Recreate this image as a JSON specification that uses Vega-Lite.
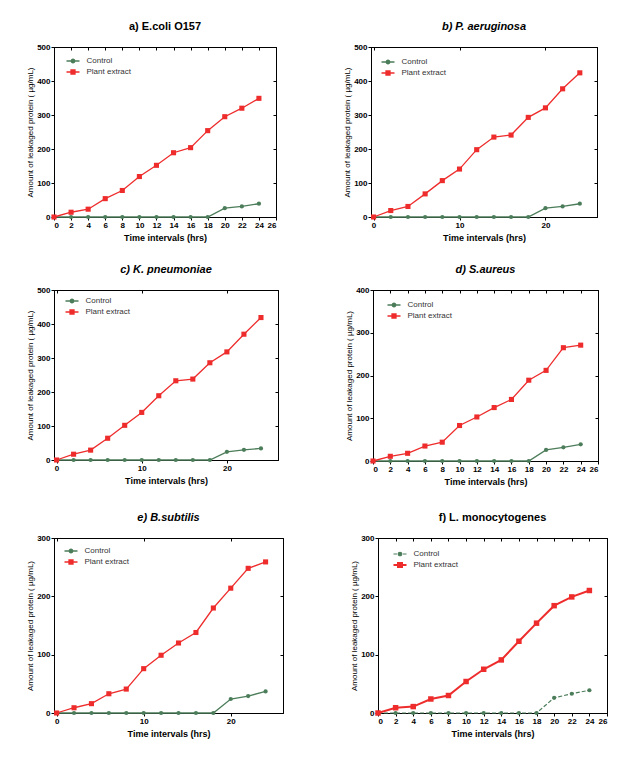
{
  "$schema": "https://vega.github.io/schema/vega-lite/v6.json",
  "background": "white",
  "padding": {"left": 26, "top": 20, "right": 5, "bottom": 5},
  "config": {
    "font": "Liberation Sans",
    "view": {"stroke": "black", "strokeWidth": 1},
    "axis": {"grid": false, "domainColor": "black", "tickColor": "black", "labelColor": "black", "titleColor": "black", "labelFont": "Liberation Sans", "labelFontWeight": "bold", "labelFontSize": 8, "tickSize": 3, "labelPadding": 1, "titleFont": "Liberation Sans", "labelOverlap": false},
    "axisX": {"titleFontSize": 9, "titleFontWeight": "bold", "titlePadding": 4},
    "axisY": {"titleFontSize": 8, "titleFontWeight": "normal", "titlePadding": 2},
    "title": {"font": "Liberation Sans", "fontSize": 11, "fontWeight": "bold", "color": "black", "offset": 11, "anchor": "middle"},
    "legend": {"labelFont": "Liberation Sans", "labelFontSize": 8, "labelColor": "#333333", "title": null, "orient": "none", "padding": 0, "symbolSize": 100, "labelOffset": 7.5, "symbolStrokeWidth": 1.3, "symbolOpacity": 1}
  },
  "datasets": {
    "leak": [
      {"panel":"a","series":"Control","time":0,"protein":0},{"panel":"a","series":"Control","time":2,"protein":0},{"panel":"a","series":"Control","time":4,"protein":0},{"panel":"a","series":"Control","time":6,"protein":0},{"panel":"a","series":"Control","time":8,"protein":0},{"panel":"a","series":"Control","time":10,"protein":0},{"panel":"a","series":"Control","time":12,"protein":0},{"panel":"a","series":"Control","time":14,"protein":0},{"panel":"a","series":"Control","time":16,"protein":0},{"panel":"a","series":"Control","time":18,"protein":0},{"panel":"a","series":"Control","time":20,"protein":26},{"panel":"a","series":"Control","time":22,"protein":31},{"panel":"a","series":"Control","time":24,"protein":39},
      {"panel":"a","series":"Plant extract","time":0,"protein":0},{"panel":"a","series":"Plant extract","time":2,"protein":14},{"panel":"a","series":"Plant extract","time":4,"protein":23},{"panel":"a","series":"Plant extract","time":6,"protein":54},{"panel":"a","series":"Plant extract","time":8,"protein":78},{"panel":"a","series":"Plant extract","time":10,"protein":119},{"panel":"a","series":"Plant extract","time":12,"protein":152},{"panel":"a","series":"Plant extract","time":14,"protein":189},{"panel":"a","series":"Plant extract","time":16,"protein":204},{"panel":"a","series":"Plant extract","time":18,"protein":254},{"panel":"a","series":"Plant extract","time":20,"protein":295},{"panel":"a","series":"Plant extract","time":22,"protein":320},{"panel":"a","series":"Plant extract","time":24,"protein":349},
      {"panel":"b","series":"Control","time":0,"protein":0},{"panel":"b","series":"Control","time":2,"protein":0},{"panel":"b","series":"Control","time":4,"protein":0},{"panel":"b","series":"Control","time":6,"protein":0},{"panel":"b","series":"Control","time":8,"protein":0},{"panel":"b","series":"Control","time":10,"protein":0},{"panel":"b","series":"Control","time":12,"protein":0},{"panel":"b","series":"Control","time":14,"protein":0},{"panel":"b","series":"Control","time":16,"protein":0},{"panel":"b","series":"Control","time":18,"protein":0},{"panel":"b","series":"Control","time":20,"protein":26},{"panel":"b","series":"Control","time":22,"protein":31},{"panel":"b","series":"Control","time":24,"protein":39},
      {"panel":"b","series":"Plant extract","time":0,"protein":0},{"panel":"b","series":"Plant extract","time":2,"protein":19},{"panel":"b","series":"Plant extract","time":4,"protein":31},{"panel":"b","series":"Plant extract","time":6,"protein":68},{"panel":"b","series":"Plant extract","time":8,"protein":107},{"panel":"b","series":"Plant extract","time":10,"protein":141},{"panel":"b","series":"Plant extract","time":12,"protein":198},{"panel":"b","series":"Plant extract","time":14,"protein":235},{"panel":"b","series":"Plant extract","time":16,"protein":241},{"panel":"b","series":"Plant extract","time":18,"protein":293},{"panel":"b","series":"Plant extract","time":20,"protein":321},{"panel":"b","series":"Plant extract","time":22,"protein":377},{"panel":"b","series":"Plant extract","time":24,"protein":424},
      {"panel":"c","series":"Control","time":0,"protein":0},{"panel":"c","series":"Control","time":2,"protein":0},{"panel":"c","series":"Control","time":4,"protein":0},{"panel":"c","series":"Control","time":6,"protein":0},{"panel":"c","series":"Control","time":8,"protein":0},{"panel":"c","series":"Control","time":10,"protein":0},{"panel":"c","series":"Control","time":12,"protein":0},{"panel":"c","series":"Control","time":14,"protein":0},{"panel":"c","series":"Control","time":16,"protein":0},{"panel":"c","series":"Control","time":18,"protein":0},{"panel":"c","series":"Control","time":20,"protein":24},{"panel":"c","series":"Control","time":22,"protein":30},{"panel":"c","series":"Control","time":24,"protein":34},
      {"panel":"c","series":"Plant extract","time":0,"protein":0},{"panel":"c","series":"Plant extract","time":2,"protein":17},{"panel":"c","series":"Plant extract","time":4,"protein":29},{"panel":"c","series":"Plant extract","time":6,"protein":64},{"panel":"c","series":"Plant extract","time":8,"protein":102},{"panel":"c","series":"Plant extract","time":10,"protein":140},{"panel":"c","series":"Plant extract","time":12,"protein":189},{"panel":"c","series":"Plant extract","time":14,"protein":233},{"panel":"c","series":"Plant extract","time":16,"protein":238},{"panel":"c","series":"Plant extract","time":18,"protein":286},{"panel":"c","series":"Plant extract","time":20,"protein":318},{"panel":"c","series":"Plant extract","time":22,"protein":370},{"panel":"c","series":"Plant extract","time":24,"protein":419},
      {"panel":"d","series":"Control","time":0,"protein":0},{"panel":"d","series":"Control","time":2,"protein":0},{"panel":"d","series":"Control","time":4,"protein":0},{"panel":"d","series":"Control","time":6,"protein":0},{"panel":"d","series":"Control","time":8,"protein":0},{"panel":"d","series":"Control","time":10,"protein":0},{"panel":"d","series":"Control","time":12,"protein":0},{"panel":"d","series":"Control","time":14,"protein":0},{"panel":"d","series":"Control","time":16,"protein":0},{"panel":"d","series":"Control","time":18,"protein":0},{"panel":"d","series":"Control","time":20,"protein":26},{"panel":"d","series":"Control","time":22,"protein":32},{"panel":"d","series":"Control","time":24,"protein":39},
      {"panel":"d","series":"Plant extract","time":0,"protein":0},{"panel":"d","series":"Plant extract","time":2,"protein":11},{"panel":"d","series":"Plant extract","time":4,"protein":18},{"panel":"d","series":"Plant extract","time":6,"protein":35},{"panel":"d","series":"Plant extract","time":8,"protein":44},{"panel":"d","series":"Plant extract","time":10,"protein":83},{"panel":"d","series":"Plant extract","time":12,"protein":103},{"panel":"d","series":"Plant extract","time":14,"protein":125},{"panel":"d","series":"Plant extract","time":16,"protein":144},{"panel":"d","series":"Plant extract","time":18,"protein":189},{"panel":"d","series":"Plant extract","time":20,"protein":212},{"panel":"d","series":"Plant extract","time":22,"protein":265},{"panel":"d","series":"Plant extract","time":24,"protein":271},
      {"panel":"e","series":"Control","time":0,"protein":0},{"panel":"e","series":"Control","time":2,"protein":0},{"panel":"e","series":"Control","time":4,"protein":0},{"panel":"e","series":"Control","time":6,"protein":0},{"panel":"e","series":"Control","time":8,"protein":0},{"panel":"e","series":"Control","time":10,"protein":0},{"panel":"e","series":"Control","time":12,"protein":0},{"panel":"e","series":"Control","time":14,"protein":0},{"panel":"e","series":"Control","time":16,"protein":0},{"panel":"e","series":"Control","time":18,"protein":0},{"panel":"e","series":"Control","time":20,"protein":24},{"panel":"e","series":"Control","time":22,"protein":29},{"panel":"e","series":"Control","time":24,"protein":37},
      {"panel":"e","series":"Plant extract","time":0,"protein":0},{"panel":"e","series":"Plant extract","time":2,"protein":9},{"panel":"e","series":"Plant extract","time":4,"protein":16},{"panel":"e","series":"Plant extract","time":6,"protein":33},{"panel":"e","series":"Plant extract","time":8,"protein":41},{"panel":"e","series":"Plant extract","time":10,"protein":76},{"panel":"e","series":"Plant extract","time":12,"protein":99},{"panel":"e","series":"Plant extract","time":14,"protein":120},{"panel":"e","series":"Plant extract","time":16,"protein":138},{"panel":"e","series":"Plant extract","time":18,"protein":180},{"panel":"e","series":"Plant extract","time":20,"protein":214},{"panel":"e","series":"Plant extract","time":22,"protein":248},{"panel":"e","series":"Plant extract","time":24,"protein":259},
      {"panel":"f","series":"Control","time":0,"protein":0},{"panel":"f","series":"Control","time":2,"protein":0},{"panel":"f","series":"Control","time":4,"protein":0},{"panel":"f","series":"Control","time":6,"protein":0},{"panel":"f","series":"Control","time":8,"protein":0},{"panel":"f","series":"Control","time":10,"protein":0},{"panel":"f","series":"Control","time":12,"protein":0},{"panel":"f","series":"Control","time":14,"protein":0},{"panel":"f","series":"Control","time":16,"protein":0},{"panel":"f","series":"Control","time":18,"protein":0},{"panel":"f","series":"Control","time":20,"protein":26},{"panel":"f","series":"Control","time":22,"protein":33},{"panel":"f","series":"Control","time":24,"protein":39},
      {"panel":"f","series":"Plant extract","time":0,"protein":0},{"panel":"f","series":"Plant extract","time":2,"protein":9},{"panel":"f","series":"Plant extract","time":4,"protein":11},{"panel":"f","series":"Plant extract","time":6,"protein":24},{"panel":"f","series":"Plant extract","time":8,"protein":30},{"panel":"f","series":"Plant extract","time":10,"protein":54},{"panel":"f","series":"Plant extract","time":12,"protein":75},{"panel":"f","series":"Plant extract","time":14,"protein":91},{"panel":"f","series":"Plant extract","time":16,"protein":123},{"panel":"f","series":"Plant extract","time":18,"protein":154},{"panel":"f","series":"Plant extract","time":20,"protein":184},{"panel":"f","series":"Plant extract","time":22,"protein":199},{"panel":"f","series":"Plant extract","time":24,"protein":210}
    ]
  },
  "data": {"name": "leak"},
  "resolve": {"scale": {"color": "independent"}, "legend": {"color": "independent"}},
  "spacing": 24,
  "vconcat": [
   {
    "resolve": {"scale": {"color": "independent"}, "legend": {"color": "independent"}},
    "spacing": 20,
    "vconcat": [
    {
      "resolve": {"scale": {"color": "independent"}, "legend": {"color": "independent"}},
      "spacing": 66,
      "hconcat": [
        {
          "title": {"text": "a) E.coli O157"},
          "width": 222, "height": 170,
          "transform": [{"filter": "datum.panel === 'a'"}],
          "layer": [
            {"transform": [{"filter": "datum.series === 'Control'"}],
             "layer": [
               {"mark": {"type": "line", "strokeWidth": 1.3},
                "encoding": {
                  "x": {"field": "time", "type": "quantitative", "axis": null},
                  "y": {"field": "protein", "type": "quantitative", "axis": null},
                  "color": {"field": "series", "type": "nominal", "scale": {"domain": ["Control"], "range": ["#4c7d5a"]},
                    "legend": {"legendX": 13, "legendY": 8, "symbolType": "M-1.3,0H1.3M-0.35,0A0.35,0.35 0 1,1 0.35,0A0.35,0.35 0 1,1 -0.35,0Z", "symbolFillColor": "#4c7d5a", "symbolStrokeColor": "#4c7d5a"}}
                }},
               {"mark": {"type": "point", "shape": "circle", "filled": true, "size": 18, "opacity": 1},
                "encoding": {"x": {"field": "time", "type": "quantitative", "axis": null}, "y": {"field": "protein", "type": "quantitative", "axis": null}, "color": {"field": "series", "type": "nominal"}}}
             ]},
            {"transform": [{"filter": "datum.series === 'Plant extract'"}],
             "layer": [
               {"mark": {"type": "line", "strokeWidth": 1.3},
                "encoding": {
                  "x": {"field": "time", "type": "quantitative", "axis": null},
                  "y": {"field": "protein", "type": "quantitative", "axis": null},
                  "color": {"field": "series", "type": "nominal", "scale": {"domain": ["Plant extract"], "range": ["#ee2c2c"]},
                    "legend": {"legendX": 13, "legendY": 19, "symbolType": "M-1.3,0H1.3M-0.4,-0.4H0.4V0.4H-0.4Z", "symbolFillColor": "#ee2c2c", "symbolStrokeColor": "#ee2c2c"}}
                }},
               {"mark": {"type": "point", "shape": "square", "filled": true, "size": 26, "opacity": 1},
                "encoding": {"x": {"field": "time", "type": "quantitative", "axis": null}, "y": {"field": "protein", "type": "quantitative", "axis": null}, "color": {"field": "series", "type": "nominal"}}}
             ]},
            {"mark": {"type": "point", "opacity": 0},
             "encoding": {
               "x": {"field": "time", "type": "quantitative", "scale": {"domain": [0, 26], "nice": false, "zero": false}, "axis": {"values": [0,2,4,6,8,10,12,14,16,18,20,22,24,26], "title": "Time intervals (hrs)"}},
               "y": {"field": "protein", "type": "quantitative", "scale": {"domain": [0, 500], "nice": false}, "axis": {"values": [0,100,200,300,400,500], "title": "Amount of leakaged protein (  µg/mL)"}}
             }},
            {"mark": {"type": "point", "opacity": 0},
             "encoding": {
               "x": {"field": "time", "type": "quantitative", "axis": {"orient": "top", "values": [0,2,4,6,8,10,12,14,16,18,20,22,24,26], "labels": false, "title": null, "tickSize": -3}},
               "y": {"field": "protein", "type": "quantitative", "axis": {"orient": "right", "values": [0,100,200,300,400,500], "labels": false, "title": null, "tickSize": -3}}
             }}
          ],
          "resolve": {"scale": {"color": "independent"}, "legend": {"color": "independent"}, "axis": {"x": "independent", "y": "independent"}}
        },
        {
          "title": {"text": "b) P. aeruginosa", "fontStyle": "italic"},
          "width": 226, "height": 170,
          "transform": [{"filter": "datum.panel === 'b'"}],
          "layer": [
            {"transform": [{"filter": "datum.series === 'Control'"}],
             "layer": [
               {"mark": {"type": "line", "strokeWidth": 1.3},
                "encoding": {
                  "x": {"field": "time", "type": "quantitative", "axis": null},
                  "y": {"field": "protein", "type": "quantitative", "axis": null},
                  "color": {"field": "series", "type": "nominal", "scale": {"domain": ["Control"], "range": ["#4c7d5a"]},
                    "legend": {"legendX": 11, "legendY": 9, "symbolType": "M-1.3,0H1.3M-0.35,0A0.35,0.35 0 1,1 0.35,0A0.35,0.35 0 1,1 -0.35,0Z", "symbolFillColor": "#4c7d5a", "symbolStrokeColor": "#4c7d5a"}}
                }},
               {"mark": {"type": "point", "shape": "circle", "filled": true, "size": 18, "opacity": 1},
                "encoding": {"x": {"field": "time", "type": "quantitative", "axis": null}, "y": {"field": "protein", "type": "quantitative", "axis": null}, "color": {"field": "series", "type": "nominal"}}}
             ]},
            {"transform": [{"filter": "datum.series === 'Plant extract'"}],
             "layer": [
               {"mark": {"type": "line", "strokeWidth": 1.3},
                "encoding": {
                  "x": {"field": "time", "type": "quantitative", "axis": null},
                  "y": {"field": "protein", "type": "quantitative", "axis": null},
                  "color": {"field": "series", "type": "nominal", "scale": {"domain": ["Plant extract"], "range": ["#ee2c2c"]},
                    "legend": {"legendX": 11, "legendY": 20, "symbolType": "M-1.3,0H1.3M-0.4,-0.4H0.4V0.4H-0.4Z", "symbolFillColor": "#ee2c2c", "symbolStrokeColor": "#ee2c2c"}}
                }},
               {"mark": {"type": "point", "shape": "square", "filled": true, "size": 26, "opacity": 1},
                "encoding": {"x": {"field": "time", "type": "quantitative", "axis": null}, "y": {"field": "protein", "type": "quantitative", "axis": null}, "color": {"field": "series", "type": "nominal"}}}
             ]},
            {"mark": {"type": "point", "opacity": 0},
             "encoding": {
               "x": {"field": "time", "type": "quantitative", "scale": {"domain": [-0.3, 26], "nice": false, "zero": false}, "axis": {"values": [0,10,20], "title": "Time intervals (hrs)"}},
               "y": {"field": "protein", "type": "quantitative", "scale": {"domain": [0, 500], "nice": false}, "axis": {"values": [0,100,200,300,400,500], "title": "Amount of leakaged protein (  µg/mL)"}}
             }},
            {"mark": {"type": "point", "opacity": 0},
             "encoding": {
               "x": {"field": "time", "type": "quantitative", "axis": {"orient": "top", "values": [0,10,20], "labels": false, "title": null, "tickSize": -3}},
               "y": {"field": "protein", "type": "quantitative", "axis": {"orient": "right", "values": [0,100,200,300,400,500], "labels": false, "title": null, "tickSize": -3}}
             }}
          ],
          "resolve": {"scale": {"color": "independent"}, "legend": {"color": "independent"}, "axis": {"x": "independent", "y": "independent"}}
        }
      ]
    },
    {
      "resolve": {"scale": {"color": "independent"}, "legend": {"color": "independent"}},
      "spacing": 66,
      "hconcat": [
        {
          "title": {"text": "c) K. pneumoniae", "fontStyle": "italic"},
          "width": 224, "height": 170,
          "transform": [{"filter": "datum.panel === 'c'"}],
          "layer": [
            {"transform": [{"filter": "datum.series === 'Control'"}],
             "layer": [
               {"mark": {"type": "line", "strokeWidth": 1.3},
                "encoding": {
                  "x": {"field": "time", "type": "quantitative", "axis": null},
                  "y": {"field": "protein", "type": "quantitative", "axis": null},
                  "color": {"field": "series", "type": "nominal", "scale": {"domain": ["Control"], "range": ["#4c7d5a"]},
                    "legend": {"legendX": 12, "legendY": 5, "symbolType": "M-1.3,0H1.3M-0.35,0A0.35,0.35 0 1,1 0.35,0A0.35,0.35 0 1,1 -0.35,0Z", "symbolFillColor": "#4c7d5a", "symbolStrokeColor": "#4c7d5a"}}
                }},
               {"mark": {"type": "point", "shape": "circle", "filled": true, "size": 18, "opacity": 1},
                "encoding": {"x": {"field": "time", "type": "quantitative", "axis": null}, "y": {"field": "protein", "type": "quantitative", "axis": null}, "color": {"field": "series", "type": "nominal"}}}
             ]},
            {"transform": [{"filter": "datum.series === 'Plant extract'"}],
             "layer": [
               {"mark": {"type": "line", "strokeWidth": 1.3},
                "encoding": {
                  "x": {"field": "time", "type": "quantitative", "axis": null},
                  "y": {"field": "protein", "type": "quantitative", "axis": null},
                  "color": {"field": "series", "type": "nominal", "scale": {"domain": ["Plant extract"], "range": ["#ee2c2c"]},
                    "legend": {"legendX": 12, "legendY": 16, "symbolType": "M-1.3,0H1.3M-0.4,-0.4H0.4V0.4H-0.4Z", "symbolFillColor": "#ee2c2c", "symbolStrokeColor": "#ee2c2c"}}
                }},
               {"mark": {"type": "point", "shape": "square", "filled": true, "size": 26, "opacity": 1},
                "encoding": {"x": {"field": "time", "type": "quantitative", "axis": null}, "y": {"field": "protein", "type": "quantitative", "axis": null}, "color": {"field": "series", "type": "nominal"}}}
             ]},
            {"mark": {"type": "point", "opacity": 0},
             "encoding": {
               "x": {"field": "time", "type": "quantitative", "scale": {"domain": [-0.3, 26], "nice": false, "zero": false}, "axis": {"values": [0,10,20], "title": "Time intervals (hrs)"}},
               "y": {"field": "protein", "type": "quantitative", "scale": {"domain": [0, 500], "nice": false}, "axis": {"values": [0,100,200,300,400,500], "title": "Amount of leakaged protein (  µg/mL)"}}
             }},
            {"mark": {"type": "point", "opacity": 0},
             "encoding": {
               "x": {"field": "time", "type": "quantitative", "axis": {"orient": "top", "values": [0,10,20], "labels": false, "title": null, "tickSize": -3}},
               "y": {"field": "protein", "type": "quantitative", "axis": {"orient": "right", "values": [0,100,200,300,400,500], "labels": false, "title": null, "tickSize": -3}}
             }}
          ],
          "resolve": {"scale": {"color": "independent"}, "legend": {"color": "independent"}, "axis": {"x": "independent", "y": "independent"}}
        },
        {
          "title": {"text": "d) S.aureus", "fontStyle": "italic"},
          "width": 225, "height": 171,
          "transform": [{"filter": "datum.panel === 'd'"}],
          "layer": [
            {"transform": [{"filter": "datum.series === 'Control'"}],
             "layer": [
               {"mark": {"type": "line", "strokeWidth": 1.3},
                "encoding": {
                  "x": {"field": "time", "type": "quantitative", "axis": null},
                  "y": {"field": "protein", "type": "quantitative", "axis": null},
                  "color": {"field": "series", "type": "nominal", "scale": {"domain": ["Control"], "range": ["#4c7d5a"]},
                    "legend": {"legendX": 15, "legendY": 9, "symbolType": "M-1.3,0H1.3M-0.35,0A0.35,0.35 0 1,1 0.35,0A0.35,0.35 0 1,1 -0.35,0Z", "symbolFillColor": "#4c7d5a", "symbolStrokeColor": "#4c7d5a"}}
                }},
               {"mark": {"type": "point", "shape": "circle", "filled": true, "size": 18, "opacity": 1},
                "encoding": {"x": {"field": "time", "type": "quantitative", "axis": null}, "y": {"field": "protein", "type": "quantitative", "axis": null}, "color": {"field": "series", "type": "nominal"}}}
             ]},
            {"transform": [{"filter": "datum.series === 'Plant extract'"}],
             "layer": [
               {"mark": {"type": "line", "strokeWidth": 1.3},
                "encoding": {
                  "x": {"field": "time", "type": "quantitative", "axis": null},
                  "y": {"field": "protein", "type": "quantitative", "axis": null},
                  "color": {"field": "series", "type": "nominal", "scale": {"domain": ["Plant extract"], "range": ["#ee2c2c"]},
                    "legend": {"legendX": 15, "legendY": 20, "symbolType": "M-1.3,0H1.3M-0.4,-0.4H0.4V0.4H-0.4Z", "symbolFillColor": "#ee2c2c", "symbolStrokeColor": "#ee2c2c"}}
                }},
               {"mark": {"type": "point", "shape": "square", "filled": true, "size": 26, "opacity": 1},
                "encoding": {"x": {"field": "time", "type": "quantitative", "axis": null}, "y": {"field": "protein", "type": "quantitative", "axis": null}, "color": {"field": "series", "type": "nominal"}}}
             ]},
            {"mark": {"type": "point", "opacity": 0},
             "encoding": {
               "x": {"field": "time", "type": "quantitative", "scale": {"domain": [0, 26], "nice": false, "zero": false}, "axis": {"values": [0,2,4,6,8,10,12,14,16,18,20,22,24,26], "title": "Time intervals (hrs)"}},
               "y": {"field": "protein", "type": "quantitative", "scale": {"domain": [0, 400], "nice": false}, "axis": {"values": [0,100,200,300,400], "title": "Amount of leakaged protein (  µg/mL)"}}
             }},
            {"mark": {"type": "point", "opacity": 0},
             "encoding": {
               "x": {"field": "time", "type": "quantitative", "axis": {"orient": "top", "values": [0,2,4,6,8,10,12,14,16,18,20,22,24,26], "labels": false, "title": null, "tickSize": -3}},
               "y": {"field": "protein", "type": "quantitative", "axis": {"orient": "right", "values": [0,100,200,300,400], "labels": false, "title": null, "tickSize": -3}}
             }}
          ],
          "resolve": {"scale": {"color": "independent"}, "legend": {"color": "independent"}, "axis": {"x": "independent", "y": "independent"}}
        }
      ]
    }
    ]
   },
    {
      "resolve": {"scale": {"color": "independent"}, "legend": {"color": "independent"}},
      "spacing": 66,
      "hconcat": [
        {
          "title": {"text": "e) B.subtilis", "fontStyle": "italic"},
          "width": 229, "height": 175,
          "transform": [{"filter": "datum.panel === 'e'"}],
          "layer": [
            {"transform": [{"filter": "datum.series === 'Control'"}],
             "layer": [
               {"mark": {"type": "line", "strokeWidth": 1.3},
                "encoding": {
                  "x": {"field": "time", "type": "quantitative", "axis": null},
                  "y": {"field": "protein", "type": "quantitative", "axis": null},
                  "color": {"field": "series", "type": "nominal", "scale": {"domain": ["Control"], "range": ["#4c7d5a"]},
                    "legend": {"legendX": 11, "legendY": 7, "symbolType": "M-1.3,0H1.3M-0.35,0A0.35,0.35 0 1,1 0.35,0A0.35,0.35 0 1,1 -0.35,0Z", "symbolFillColor": "#4c7d5a", "symbolStrokeColor": "#4c7d5a"}}
                }},
               {"mark": {"type": "point", "shape": "circle", "filled": true, "size": 18, "opacity": 1},
                "encoding": {"x": {"field": "time", "type": "quantitative", "axis": null}, "y": {"field": "protein", "type": "quantitative", "axis": null}, "color": {"field": "series", "type": "nominal"}}}
             ]},
            {"transform": [{"filter": "datum.series === 'Plant extract'"}],
             "layer": [
               {"mark": {"type": "line", "strokeWidth": 1.3},
                "encoding": {
                  "x": {"field": "time", "type": "quantitative", "axis": null},
                  "y": {"field": "protein", "type": "quantitative", "axis": null},
                  "color": {"field": "series", "type": "nominal", "scale": {"domain": ["Plant extract"], "range": ["#ee2c2c"]},
                    "legend": {"legendX": 11, "legendY": 18, "symbolType": "M-1.3,0H1.3M-0.4,-0.4H0.4V0.4H-0.4Z", "symbolFillColor": "#ee2c2c", "symbolStrokeColor": "#ee2c2c"}}
                }},
               {"mark": {"type": "point", "shape": "square", "filled": true, "size": 26, "opacity": 1},
                "encoding": {"x": {"field": "time", "type": "quantitative", "axis": null}, "y": {"field": "protein", "type": "quantitative", "axis": null}, "color": {"field": "series", "type": "nominal"}}}
             ]},
            {"mark": {"type": "point", "opacity": 0},
             "encoding": {
               "x": {"field": "time", "type": "quantitative", "scale": {"domain": [-0.3, 26], "nice": false, "zero": false}, "axis": {"values": [0,10,20], "title": "Time intervals (hrs)"}},
               "y": {"field": "protein", "type": "quantitative", "scale": {"domain": [0, 300], "nice": false}, "axis": {"values": [0,100,200,300], "title": "Amount of leakaged protein (  µg/mL)"}}
             }},
            {"mark": {"type": "point", "opacity": 0},
             "encoding": {
               "x": {"field": "time", "type": "quantitative", "axis": {"orient": "top", "values": [0,10,20], "labels": false, "title": null, "tickSize": -3}},
               "y": {"field": "protein", "type": "quantitative", "axis": {"orient": "right", "values": [0,100,200,300], "labels": false, "title": null, "tickSize": -3}}
             }}
          ],
          "resolve": {"scale": {"color": "independent"}, "legend": {"color": "independent"}, "axis": {"x": "independent", "y": "independent"}}
        },
        {
          "title": {"text": "f) L. monocytogenes"},
          "width": 229, "height": 175,
          "transform": [{"filter": "datum.panel === 'f'"}],
          "layer": [
            {"transform": [{"filter": "datum.series === 'Control'"}],
             "layer": [
               {"mark": {"type": "line", "strokeWidth": 1.2, "strokeDash": [4, 2]},
                "encoding": {
                  "x": {"field": "time", "type": "quantitative", "axis": null},
                  "y": {"field": "protein", "type": "quantitative", "axis": null},
                  "color": {"field": "series", "type": "nominal", "scale": {"domain": ["Control"], "range": ["#4c7d5a"]},
                    "legend": {"legendX": 16, "legendY": 10, "symbolType": "M-1.3,0H-0.6M0.6,0H1.3M-0.35,0A0.35,0.35 0 1,1 0.35,0A0.35,0.35 0 1,1 -0.35,0Z", "symbolFillColor": "#4c7d5a", "symbolStrokeColor": "#4c7d5a", "symbolStrokeWidth": 1.2}}
                }},
               {"mark": {"type": "point", "shape": "circle", "filled": true, "size": 18, "opacity": 1},
                "encoding": {"x": {"field": "time", "type": "quantitative", "axis": null}, "y": {"field": "protein", "type": "quantitative", "axis": null}, "color": {"field": "series", "type": "nominal"}}}
             ]},
            {"transform": [{"filter": "datum.series === 'Plant extract'"}],
             "layer": [
               {"mark": {"type": "line", "strokeWidth": 2},
                "encoding": {
                  "x": {"field": "time", "type": "quantitative", "axis": null},
                  "y": {"field": "protein", "type": "quantitative", "axis": null},
                  "color": {"field": "series", "type": "nominal", "scale": {"domain": ["Plant extract"], "range": ["#ee2c2c"]},
                    "legend": {"legendX": 16, "legendY": 21, "symbolType": "M-1.3,0H1.3M-0.4,-0.4H0.4V0.4H-0.4Z", "symbolFillColor": "#ee2c2c", "symbolStrokeColor": "#ee2c2c", "symbolStrokeWidth": 2}}
                }},
               {"mark": {"type": "point", "shape": "square", "filled": true, "size": 30, "opacity": 1},
                "encoding": {"x": {"field": "time", "type": "quantitative", "axis": null}, "y": {"field": "protein", "type": "quantitative", "axis": null}, "color": {"field": "series", "type": "nominal"}}}
             ]},
            {"mark": {"type": "point", "opacity": 0},
             "encoding": {
               "x": {"field": "time", "type": "quantitative", "scale": {"domain": [0, 26], "nice": false, "zero": false}, "axis": {"values": [0,2,4,6,8,10,12,14,16,18,20,22,24,26], "title": "Time intervals (hrs)"}},
               "y": {"field": "protein", "type": "quantitative", "scale": {"domain": [0, 300], "nice": false}, "axis": {"values": [0,100,200,300], "title": "Amount of leakaged protein (  µg/mL)"}}
             }},
            {"mark": {"type": "point", "opacity": 0},
             "encoding": {
               "x": {"field": "time", "type": "quantitative", "axis": {"orient": "top", "values": [0,2,4,6,8,10,12,14,16,18,20,22,24,26], "labels": false, "title": null, "tickSize": -3}},
               "y": {"field": "protein", "type": "quantitative", "axis": {"orient": "right", "values": [0,100,200,300], "labels": false, "title": null, "tickSize": -3}}
             }}
          ],
          "resolve": {"scale": {"color": "independent"}, "legend": {"color": "independent"}, "axis": {"x": "independent", "y": "independent"}}
        }
      ]
    }
  ]
}
